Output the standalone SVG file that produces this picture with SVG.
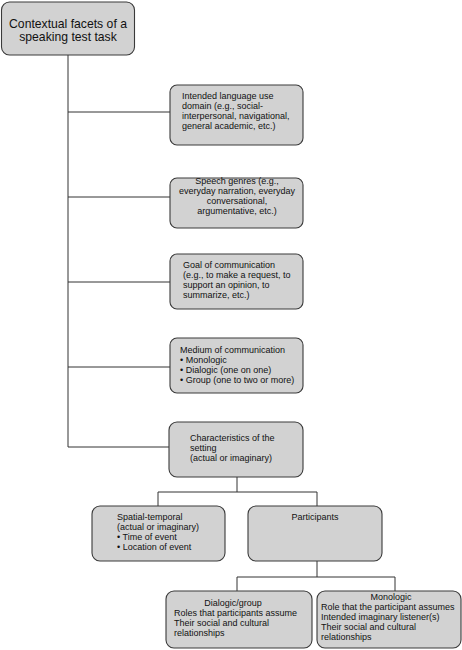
<svg xmlns="http://www.w3.org/2000/svg" width="462" height="650" viewBox="0 0 462 650">
<style>
.box{fill:#d2d2d2;stroke:#3a3a3a;stroke-width:1.1}
.t{font-family:"Liberation Sans",Arial,sans-serif;font-size:9px;fill:#111}
.c{text-anchor:middle}
.big{font-size:12.2px}
.ln{stroke:#333;stroke-width:1;fill:none}
</style>
<rect width="462" height="650" fill="#fff"/>
<g id="connectors">
<path class="ln" d="M68 55V447"/>
<path class="ln" d="M68 112H170M68 197H170M68 282H170M68 367H170M68 447H169"/>
<path class="ln" d="M237 477V492M158 492H317M158 492V506M317 492V506"/>
<path class="ln" d="M317 561V577M237 577H395M237 577V591M395 577V591"/>
</g>
<g id="root">
<rect class="box" x="1.5" y="2" width="133" height="53" rx="8"/>
<text class="t c big" x="68" y="28">Contextual facets of a</text>
<text class="t c big" x="68" y="41">speaking test task</text>
</g>
<g id="domain">
<rect class="box" x="170" y="85" width="133" height="60" rx="7"/>
<text class="t" x="182" y="99">Intended language use</text>
<text class="t" x="182" y="109">domain (e.g., social-</text>
<text class="t" x="182" y="119">interpersonal, navigational,</text>
<text class="t" x="182" y="129">general academic, etc.)</text>
</g>
<g id="genres">
<rect class="box" x="170" y="178" width="133" height="50" rx="7"/>
<text class="t c" x="237" y="184">Speech genres (e.g.,</text>
<text class="t c" x="237" y="194">everyday narration, everyday</text>
<text class="t c" x="237" y="204">conversational,</text>
<text class="t c" x="237" y="214">argumentative, etc.)</text>
</g>
<g id="goal">
<rect class="box" x="170" y="254" width="133" height="55" rx="7"/>
<text class="t" x="183" y="268">Goal of communication</text>
<text class="t" x="183" y="278">(e.g., to make a request, to</text>
<text class="t" x="183" y="288">support an opinion, to</text>
<text class="t" x="183" y="298">summarize, etc.)</text>
</g>
<g id="medium">
<rect class="box" x="170" y="338" width="133" height="55" rx="7"/>
<text class="t" x="180" y="353">Medium of communication</text>
<text class="t" x="180" y="363">• Monologic</text>
<text class="t" x="180" y="373">• Dialogic (one on one)</text>
<text class="t" x="180" y="383">• Group (one to two or more)</text>
</g>
<g id="setting">
<rect class="box" x="169" y="422" width="134" height="55" rx="8"/>
<text class="t" x="190" y="441">Characteristics of the</text>
<text class="t" x="190" y="451">setting</text>
<text class="t" x="190" y="461">(actual or imaginary)</text>
</g>
<g id="spatial">
<rect class="box" x="92" y="506" width="133" height="55" rx="8"/>
<text class="t" x="117" y="520">Spatial-temporal</text>
<text class="t" x="117" y="530">(actual or imaginary)</text>
<text class="t" x="117" y="540">• Time of event</text>
<text class="t" x="117" y="550">• Location of event</text>
</g>
<g id="participants">
<rect class="box" x="248" y="506" width="134" height="55" rx="8"/>
<text class="t c" x="315" y="520">Participants</text>
</g>
<g id="dialogic">
<rect class="box" x="166" y="591" width="146" height="57" rx="8"/>
<text class="t c" x="233" y="606">Dialogic/group</text>
<text class="t" x="174" y="616">Roles that participants assume</text>
<text class="t" x="174" y="626">Their social and cultural</text>
<text class="t" x="174" y="636">relationships</text>
</g>
<g id="monologic">
<rect class="box" x="317" y="591" width="144" height="57" rx="8"/>
<text class="t c" x="391" y="600">Monologic</text>
<text class="t" x="321" y="610">Role that the participant assumes</text>
<text class="t" x="321" y="620">Intended imaginary listener(s)</text>
<text class="t" x="321" y="630">Their social and cultural</text>
<text class="t" x="321" y="640">relationships</text>
</g>
</svg>
